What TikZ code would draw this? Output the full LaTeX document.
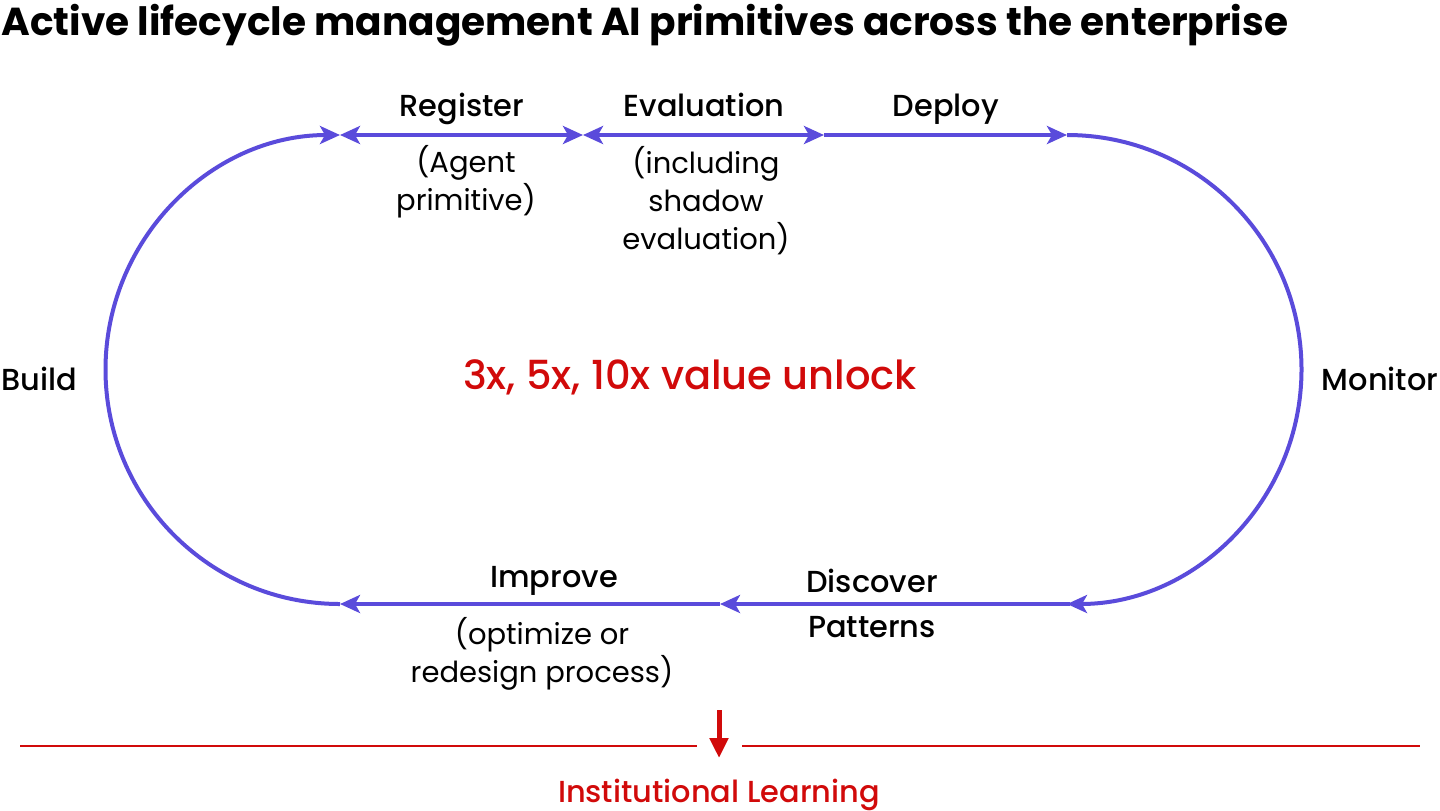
\documentclass[tikz,border=0pt]{standalone}
\usepackage{fontspec}
\setmainfont{Poppins}
\newfontface\medfont{Poppins Medium}
\usetikzlibrary{arrows.meta}

\definecolor{loopblue}{HTML}{5A4BDB}
\definecolor{learnred}{HTML}{D10A0A}

\begin{document}
\begin{tikzpicture}[
  x=0.5pt, y=0.5pt,
  >={Stealth[length=10pt, width=9pt, inset=2.5pt]},
  flow/.style={draw=loopblue, line width=2pt},
  stage/.style={font=\medfont\fontsize{15.2}{19}\selectfont, inner sep=0pt, anchor=base},
  note/.style={font=\fontsize{14.5}{19}\selectfont, align=center, inner sep=0pt}
]
\useasboundingbox (0,0) rectangle (1440,-810);

\node[anchor=base west, inner sep=0pt, font=\bfseries\fontsize{19.5}{24}\selectfont] (title) at (1,-35)
  {Active lifecycle management AI primitives across the enterprise};

% corners of the loop
\coordinate (tl) at (340,-135);
\coordinate (t1) at (583,-135);
\coordinate (t2) at (824,-135);
\coordinate (tr) at (1067,-135);
\coordinate (br) at (1070,-604);
\coordinate (bm) at (720,-604);
\coordinate (bl) at (340,-604);

% Left half circle (build)
\draw[flow, ->] (bl) arc[start angle=-90, end angle=-270, radius=234.5];
% Top path
\draw[flow, <->] (tl) -- (t1);
\draw[flow, <->] (t1) -- (t2);
\draw[flow, ->] (t2) -- (tr);
% Right half circle (monitor)
\draw[flow, ->] (tr) arc[start angle=90, end angle=-90, radius=234.5];
% Bottom path
\draw[flow, ->] (br) -- (bm);
\draw[flow, ->] (bm) -- (bl);

% stage labels
\node[stage] (register) at (462,-116) {Register};
\node[note]  (agent)    at (466,-182) {(Agent\\primitive)};
\node[stage] (eval)     at (704,-116) {Evaluation};
\node[note]  (shadow)   at (706,-201) {(including\\shadow\\evaluation)};
\node[stage] (deploy)   at (946,-116) {Deploy};
\node[stage] (monitor)  at (1380,-390) {Monitor};
\node[stage] (build)    at (39,-390) {Build};
\node[stage, anchor=center, align=center, font=\medfont\fontsize{15.2}{22.5}\selectfont] (discover) at (872,-603) {Discover\\Patterns};
\node[stage] (improve)  at (554,-587) {Improve};
\node[note]  (optimize) at (542,-654) {(optimize or\\redesign process)};

\node[font=\medfont\fontsize{20}{24}\selectfont, text=learnred] (unlock) at (690,-377) {3x, 5x, 10x value unlock};

% Institutional learning
\coordinate (rl1) at (20,-746);
\coordinate (rl2) at (697,-746);
\coordinate (rr1) at (742,-746);
\coordinate (rr2) at (1420,-746);
\draw[learnred, line width=1pt] (rl1) -- (rl2);
\draw[learnred, line width=1pt] (rr1) -- (rr2);
\node[stage, text=learnred] (learn) at (719,-802) {Institutional Learning};
\coordinate (drop) at (719,-710);
\draw[learnred, line width=2.5pt, -{Stealth[length=10pt, width=9pt, inset=0pt]}] (drop) -- ++(0,-48);

\end{tikzpicture}
\end{document}
